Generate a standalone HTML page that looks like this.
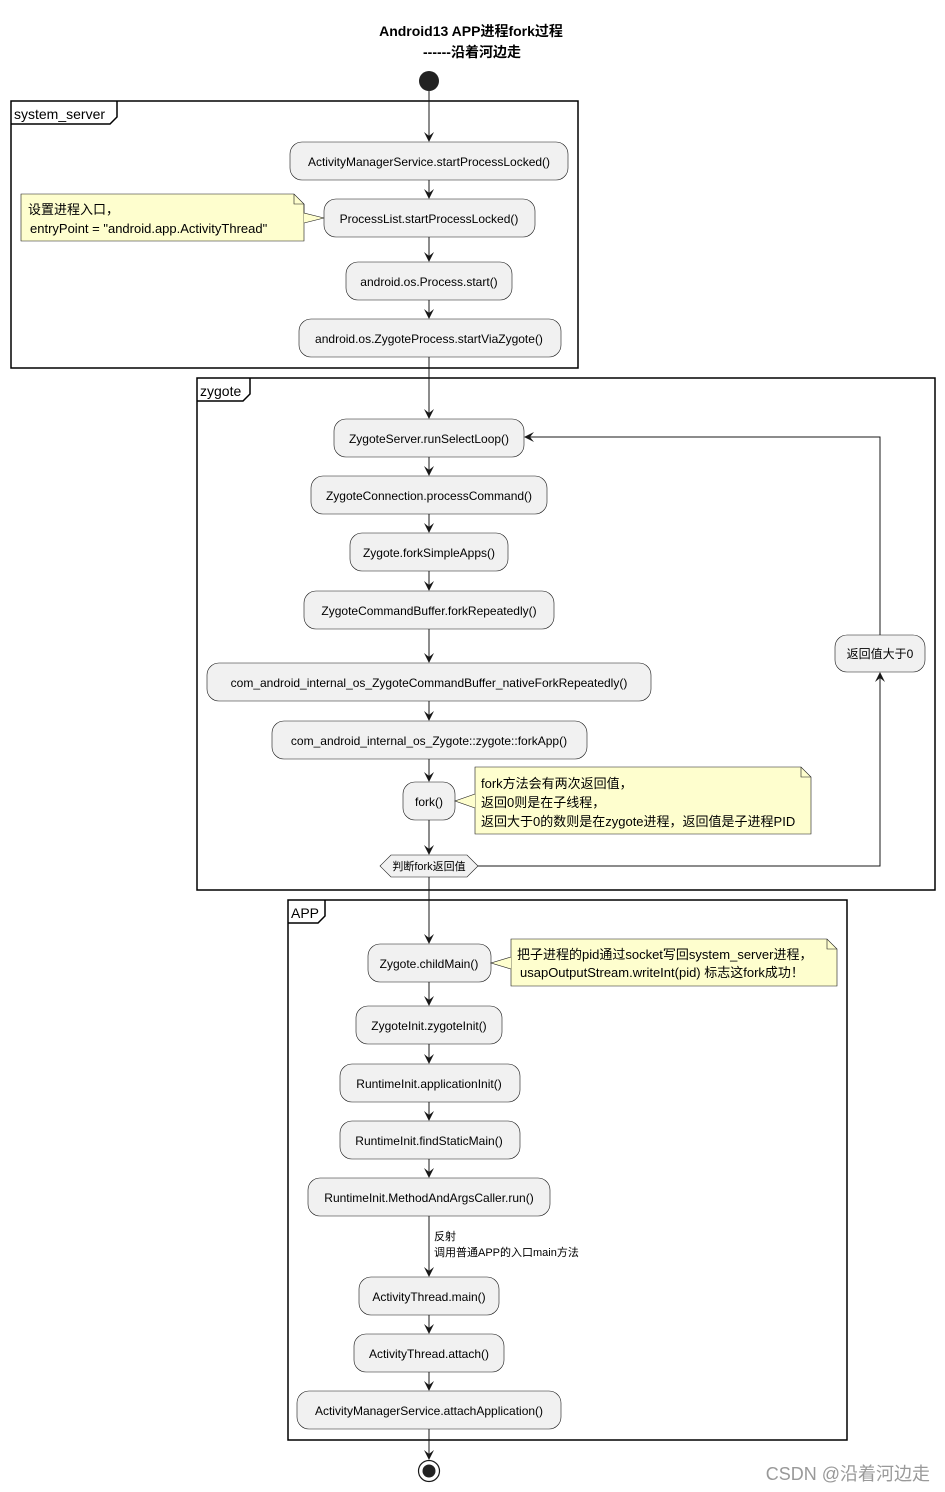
<!DOCTYPE html><html><head><meta charset="utf-8"><style>body{margin:0;background:#fff}svg{display:block}text{font-family:"Liberation Sans","Noto Sans CJK SC",sans-serif;font-size:12px;fill:#000}</style></head><body>
<svg width="945" height="1492" viewBox="0 0 945 1492" xmlns="http://www.w3.org/2000/svg">
<defs><marker id="a" markerWidth="10" markerHeight="10" refX="9" refY="5" orient="auto" markerUnits="userSpaceOnUse"><path d="M0,0 L10,5 L0,10 L4,5 Z" fill="#181818"/></marker></defs>
<text x="471" y="36" text-anchor="middle" font-weight="bold" style="font-size:14px">Android13 APP进程fork过程</text>
<text x="472" y="57" text-anchor="middle" font-weight="bold" style="font-size:14px">------沿着河边走</text>
<g fill="none" stroke="#000" stroke-width="1.5">
<rect x="11" y="101" width="567" height="267"/><path d="M11,124 H110 L117,117 V101"/>
<rect x="197" y="378" width="738" height="512"/><path d="M197,401 H243 L250,394 V378"/>
<rect x="288" y="900" width="559" height="540"/><path d="M288,923 H318 L325,916 V900"/>
</g>
<text x="14" y="119" style="font-size:14px">system_server</text>
<text x="200" y="396" style="font-size:14px">zygote</text>
<text x="291" y="918" style="font-size:14px">APP</text>
<circle cx="429" cy="81" r="10" fill="#222"/>
<g stroke="#181818" stroke-width="1" fill="none" marker-end="url(#a)">
<path d="M429,91V141"/><path d="M429,180V198"/><path d="M429,237V261"/><path d="M429,300V318"/><path d="M429,357V418"/>
<path d="M429,457V475"/><path d="M429,514V532"/><path d="M429,571V590"/><path d="M429,629V662"/><path d="M429,701V720"/><path d="M429,759V781"/><path d="M429,820V854"/>
<path d="M478,866H880V673"/><path d="M880,635V437H525"/>
<path d="M429,877V943"/><path d="M429,982V1005"/><path d="M429,1044V1063"/><path d="M429,1102V1120"/><path d="M429,1159V1177"/><path d="M429,1216V1276"/><path d="M429,1315V1333"/><path d="M429,1372V1390"/><path d="M429,1429V1459"/>
</g>
<g fill="#f1f1f1" stroke="#181818" stroke-width="0.6">
<rect x="290" y="142" width="278" height="38" rx="12"/>
<rect x="324" y="199" width="211" height="38" rx="12"/>
<rect x="346" y="262" width="166" height="38" rx="12"/>
<rect x="299" y="319" width="262" height="38" rx="12"/>
<rect x="334" y="419" width="190" height="38" rx="12"/>
<rect x="311" y="476" width="236" height="38" rx="12"/>
<rect x="350" y="533" width="158" height="38" rx="12"/>
<rect x="304" y="591" width="250" height="38" rx="12"/>
<rect x="207" y="663" width="444" height="38" rx="12"/>
<rect x="272" y="721" width="315" height="38" rx="12"/>
<rect x="403" y="782" width="52" height="38" rx="12"/>
<rect x="835" y="635" width="90" height="37" rx="12"/>
<path d="M380,866 L391,855 H467 L478,866 L467,877 H391 Z"/>
<rect x="368" y="944" width="123" height="38" rx="12"/>
<rect x="356" y="1006" width="146" height="38" rx="12"/>
<rect x="340" y="1064" width="180" height="38" rx="12"/>
<rect x="340" y="1121" width="180" height="38" rx="12"/>
<rect x="308" y="1178" width="242" height="38" rx="12"/>
<rect x="359" y="1277" width="140" height="38" rx="12"/>
<rect x="354" y="1334" width="150" height="38" rx="12"/>
<rect x="297" y="1391" width="264" height="38" rx="12"/>
</g>
<g fill="#fefece" stroke="#181818" stroke-width="0.6">
<path d="M21,194 H294 L304,204 V241 H21 Z"/><path d="M304,204 V213 L324,218 L304,223"/>
<path d="M475,767 H801 L811,777 V834 H475 Z"/><path d="M475,794 L455,801 L475,808"/>
<path d="M511,939 H827 L837,949 V986 H511 Z"/><path d="M511,957 L491,963 L511,969"/>
</g>
<g fill="none" stroke="#181818" stroke-width="0.6"><path d="M294,194 V204 H304"/><path d="M801,767 V777 H811"/><path d="M827,939 V949 H837"/></g>
<g text-anchor="middle">
<text x="429" y="166">ActivityManagerService.startProcessLocked()</text>
<text x="429" y="223">ProcessList.startProcessLocked()</text>
<text x="429" y="286">android.os.Process.start()</text>
<text x="429" y="343">android.os.ZygoteProcess.startViaZygote()</text>
<text x="429" y="443">ZygoteServer.runSelectLoop()</text>
<text x="429" y="500">ZygoteConnection.processCommand()</text>
<text x="429" y="557">Zygote.forkSimpleApps()</text>
<text x="429" y="615">ZygoteCommandBuffer.forkRepeatedly()</text>
<text x="429" y="687">com_android_internal_os_ZygoteCommandBuffer_nativeForkRepeatedly()</text>
<text x="429" y="745">com_android_internal_os_Zygote::zygote::forkApp()</text>
<text x="429" y="806">fork()</text>
<text x="880" y="658">返回值大于0</text>
<text x="429" y="870" style="font-size:11px">判断fork返回值</text>
<text x="429" y="968">Zygote.childMain()</text>
<text x="429" y="1030">ZygoteInit.zygoteInit()</text>
<text x="429" y="1088">RuntimeInit.applicationInit()</text>
<text x="429" y="1145">RuntimeInit.findStaticMain()</text>
<text x="429" y="1202">RuntimeInit.MethodAndArgsCaller.run()</text>
<text x="429" y="1301">ActivityThread.main()</text>
<text x="429" y="1358">ActivityThread.attach()</text>
<text x="429" y="1415">ActivityManagerService.attachApplication()</text>
</g>
<text x="28" y="214" style="font-size:13px">设置进程入口，</text>
<text x="30" y="233" style="font-size:13px">entryPoint = "android.app.ActivityThread"</text>
<text x="481" y="788" style="font-size:13px">fork方法会有两次返回值，</text>
<text x="481" y="807" style="font-size:13px">返回0则是在子线程，</text>
<text x="481" y="826" style="font-size:13px">返回大于0的数则是在zygote进程，返回值是子进程PID</text>
<text x="517" y="959" style="font-size:13px">把子进程的pid通过socket写回system_server进程，</text>
<text x="520" y="977" style="font-size:13px">usapOutputStream.writeInt(pid) 标志这fork成功！</text>
<text x="434" y="1240" style="font-size:11px">反射</text>
<text x="434" y="1256" style="font-size:11px">调用普通APP的入口main方法</text>
<circle cx="429" cy="1471" r="10.5" fill="#fff" stroke="#181818" stroke-width="1.2"/><circle cx="429" cy="1471" r="6.5" fill="#222"/>
<text x="930" y="1480" text-anchor="end" style="font-size:18px;fill:#999">CSDN @沿着河边走</text>
</svg></body></html>
